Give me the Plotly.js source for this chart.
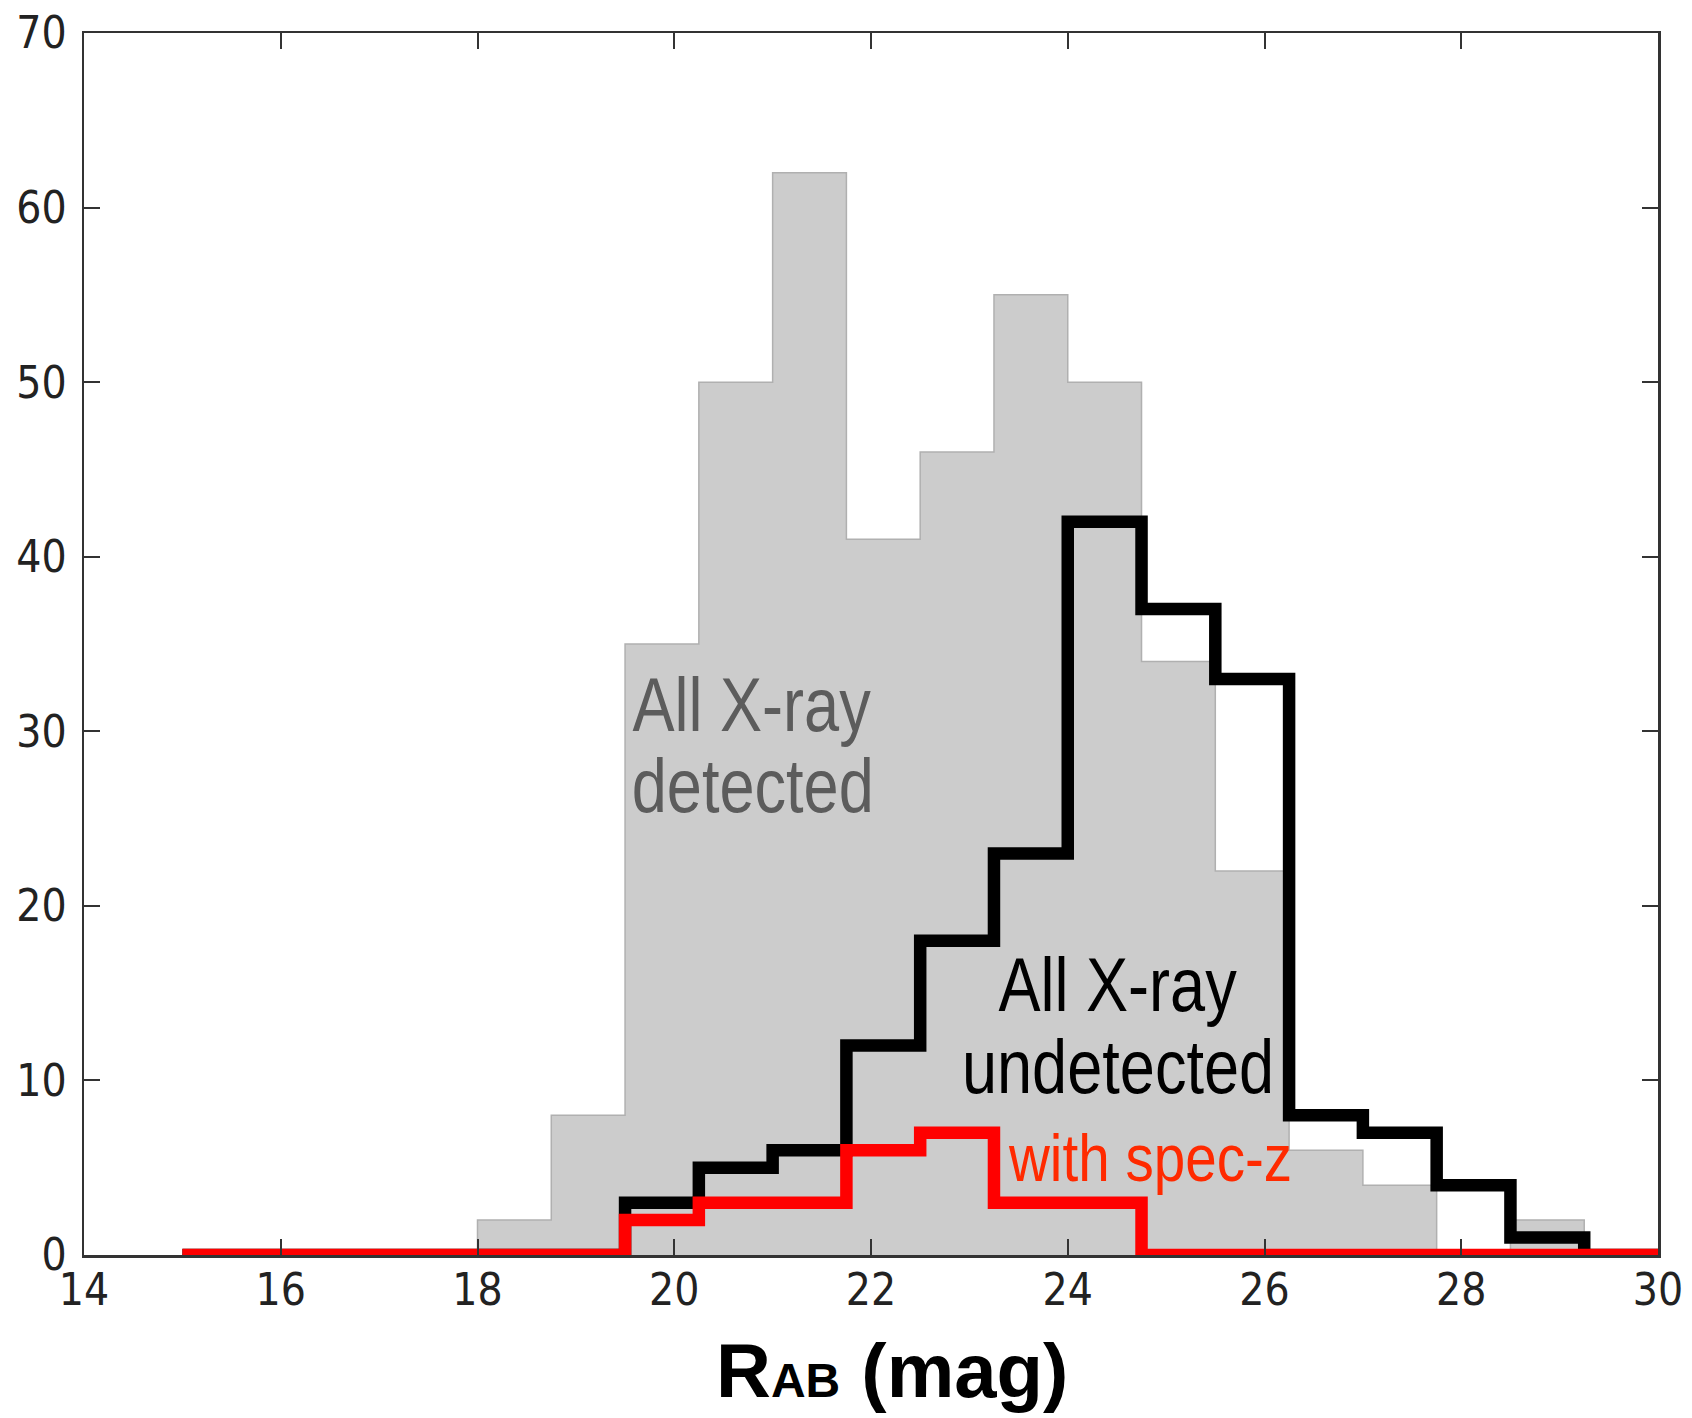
<!DOCTYPE html>
<html>
<head>
<meta charset="utf-8">
<script src="https://cdn.plot.ly/plotly-3.0.1.min.js"></script>
<style>
  html, body { margin: 0; padding: 0; background: #ffffff; }
  #chart { width: 1692px; height: 1418px; }
</style>
</head>
<body>
<div id="chart"></div>
<script>
// Histogram bin edges (R_AB, mag)
var binEdges = [15, 15.75, 16.5, 17.25, 18, 18.75, 19.5, 20.25, 21, 21.75, 22.5,
                23.25, 24, 24.75, 25.5, 26.25, 27, 27.75, 28.5, 29.25, 30];
// Counts per bin
var allXrayDetected   = [0, 0, 0, 0, 2, 8, 35, 50, 62, 41, 46, 55, 50, 34, 22, 6, 4, 0, 2, 0];
var allXrayUndetected = [0, 0, 0, 0, 0, 0, 3, 5, 6, 12, 18, 23, 42, 37, 33, 8, 7, 4, 1, 0];
var withSpecZ         = [0, 0, 0, 0, 0, 0, 2, 3, 3, 6, 7, 3, 3, 0, 0, 0, 0, 0, 0, 0];
// Axis ticks
var xTickVals = [14, 16, 18, 20, 22, 24, 26, 28, 30];
var yTickVals = [0, 10, 20, 30, 40, 50, 60, 70];

function stepY(counts) { return counts.concat([counts[counts.length - 1]]); }

var labelFont = 'Liberation Sans, Arial, sans-serif';
var tickFont = {family: 'DejaVu Sans Condensed, DejaVu Sans, sans-serif', size: 44, color: '#222222'};

var traces = [
  {
    x: binEdges, y: stepY(allXrayDetected), type: 'scatter', mode: 'lines',
    line: {shape: 'hv', color: '#b0b0b0', width: 1.5},
    fill: 'tozeroy', fillcolor: '#cccccc', hoverinfo: 'skip', name: 'All X-ray detected'
  },
  {
    x: binEdges, y: stepY(allXrayUndetected), type: 'scatter', mode: 'lines',
    line: {shape: 'hv', color: '#000000', width: 12.5}, name: 'All X-ray undetected'
  },
  {
    x: binEdges, y: stepY(withSpecZ), type: 'scatter', mode: 'lines',
    line: {shape: 'hv', color: '#ff0000', width: 12.5}, name: 'with spec-z'
  }
];

var axisCommon = {
  ticks: 'inside', ticklen: 16, tickwidth: 2, tickcolor: '#333333',
  showline: true, linecolor: '#333333', linewidth: 2.5, mirror: 'ticks',
  showgrid: false, zeroline: false, tickfont: tickFont
};

var layout = {
  width: 1692, height: 1418,
  margin: {l: 84, r: 34, t: 33, b: 163},
  paper_bgcolor: '#ffffff', plot_bgcolor: '#ffffff',
  showlegend: false,
  xaxis: Object.assign({}, axisCommon, {
    range: [14, 30], tickvals: xTickVals, ticktext: xTickVals.map(String),
    ticklabelstandoff: -5,
    title: {
      text: '<b>&nbsp;&nbsp;R<span style="font-size:48px">AB</span> (mag)</b>',
      font: {family: labelFont, size: 76, color: '#000000'},
      standoff: 30
    }
  }),
  yaxis: Object.assign({}, axisCommon, {
    range: [0, 70], tickvals: yTickVals, ticktext: yTickVals.map(String),
    ticklabelstandoff: 6
  }),
  annotations: [
    {x: 20.79, y: 31.56, xref: 'x', yref: 'y', text: 'All X-ray', showarrow: false,
     xanchor: 'center', yanchor: 'middle', font: {family: labelFont, size: 76, color: '#5c5c5c'}},
    {x: 20.80, y: 26.87, xref: 'x', yref: 'y', text: 'detected', showarrow: false,
     xanchor: 'center', yanchor: 'middle', font: {family: labelFont, size: 76, color: '#5c5c5c'}},
    {x: 24.51, y: 15.52, xref: 'x', yref: 'y', text: 'All X-ray', showarrow: false,
     xanchor: 'center', yanchor: 'middle', font: {family: labelFont, size: 76, color: '#000000'}},
    {x: 24.51, y: 10.77, xref: 'x', yref: 'y', text: 'undetected', showarrow: false,
     xanchor: 'center', yanchor: 'middle', font: {family: labelFont, size: 76, color: '#000000'}},
    {x: 24.84, y: 5.61, xref: 'x', yref: 'y', text: 'with spec-z', showarrow: false,
     xanchor: 'center', yanchor: 'middle', font: {family: labelFont, size: 67, color: '#ff2a00'}}
  ]
};

// horizontal condensing of the annotation lettering (reference uses a narrow face)
var textSqueeze = [0.83, 0.83, 0.83, 0.83, 0.845];

Plotly.newPlot('chart', traces, layout, {staticPlot: true, displayModeBar: false}).then(function (gd) {
  var texts = gd.querySelectorAll('.annotation-text');
  texts.forEach(function (t, i) {
    var w = t.getComputedTextLength();
    t.setAttribute('textLength', (w * textSqueeze[i]).toFixed(1));
    t.setAttribute('lengthAdjust', 'spacingAndGlyphs');
  });
});
</script>
</body>
</html>
